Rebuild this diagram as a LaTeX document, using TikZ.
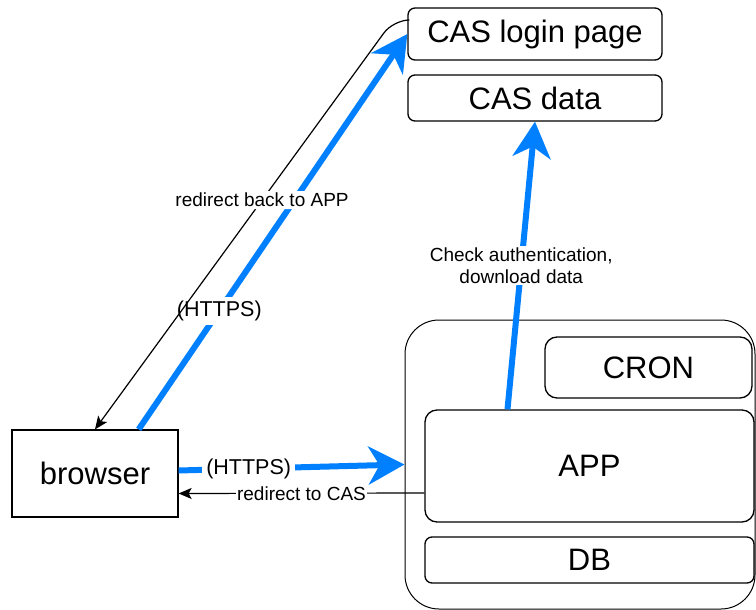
\documentclass[tikz,border=0pt]{standalone}
\usepackage{fontspec}
\setmainfont{Liberation Sans}
\usetikzlibrary{arrows.meta}
\definecolor{flowblue}{RGB}{0,127,255}

\begin{document}
\begin{tikzpicture}[x=1pt, y=-1pt,
  box/.style = {shape=rectangle, rounded corners=7pt, draw, line width=1.3pt,
    inner sep=0pt, font=\fontsize{31}{35}\selectfont},
  flow/.style = {draw=flowblue, line width=6pt,
    -{Stealth[length=36pt, width=38pt, inset=11pt]}},
  backflow/.style = {draw, line width=1.2pt,
    -{Stealth[length=13pt, width=11pt, inset=3pt]}},
  lbl/.style = {fill=white, inner sep=2pt, align=center,
    font=\fontsize{19}{22}\selectfont},
  biglbl/.style = {lbl, inner sep=4pt, font=\fontsize{21.5}{24}\selectfont}]
  \useasboundingbox (0,0) rectangle (756,610);

  % CAS side
  \node[box, minimum width=254pt, minimum height=52pt] (login) at (535,34) {CAS login page};
  \node[box, minimum width=254pt, minimum height=46pt] (casdata) at (535,98) {CAS data};

  % server with its parts
  \node[box, line width=1pt, rounded corners=34pt, minimum width=350pt, minimum height=289pt] (server) at (580,464.5) {};
  \node[box, rounded corners=12pt, minimum width=207pt, minimum height=61pt] (cron) at (648.5,367.5) {CRON};
  \node[box, rounded corners=12pt, minimum width=329pt, minimum height=112pt] (app) at (589.5,466) {APP};
  \node[box, minimum width=329pt, minimum height=46pt] (db) at (589.5,560) {DB};

  % client
  \node[box, sharp corners, minimum width=166pt, minimum height=87pt] (browser) at (95,473.5) {browser};

  % connectors
  \draw[flow] ([xshift=-40pt]browser.north east) -- node[biglbl, pos=0.3] {(HTTPS)} (login.west);
  \draw[backflow, rounded corners=16pt] ([yshift=14pt]login.west) -- ++(-14,0)
    -- node[lbl, pos=0.44] {redirect back to APP} (browser.north);
  \draw[flow] ([yshift=3pt]browser.east) -- node[biglbl, pos=0.31] {(HTTPS)} (server.west);
  \draw[backflow] ([yshift=-27pt]app.west) -- node[lbl, inner sep=1pt, pos=0.5] {redirect to CAS} ([yshift=-20pt]browser.east);
  \draw[flow] ([xshift=-82pt]app.north) -- node[lbl, pos=0.5] {Check authentication,\\download data} (casdata.south);
\end{tikzpicture}
\end{document}
